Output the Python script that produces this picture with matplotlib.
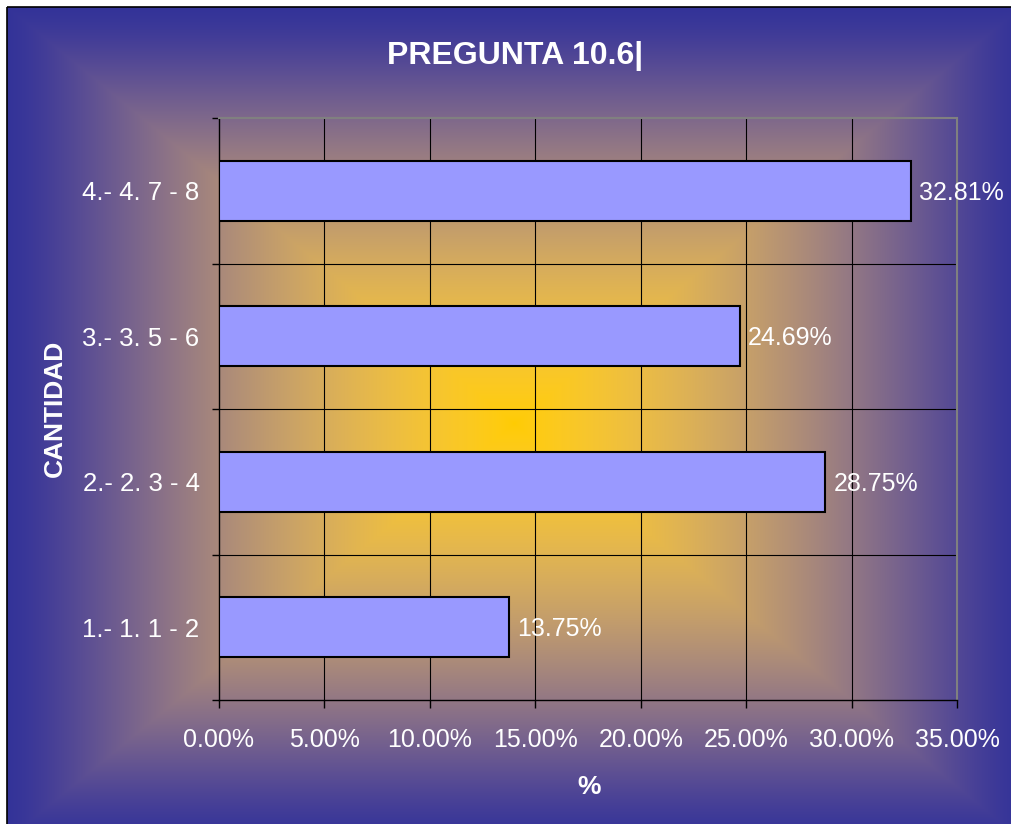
import numpy as np
import matplotlib
matplotlib.use("Agg")
import matplotlib.pyplot as plt
from matplotlib.patches import Rectangle
from matplotlib.ticker import FixedLocator, FuncFormatter

plt.rcParams['font.family'] = ['Liberation Sans', 'DejaVu Sans']

# Data
categories = ["1.- 1. 1 - 2", "2.- 2. 3 - 4", "3.- 3. 5 - 6", "4.- 4. 7 - 8"]
percentages = [13.75, 28.75, 24.69, 32.81]
x_ticks = [0, 5, 10, 15, 20, 25, 30, 35]
title_text = "PREGUNTA 10.6|"
y_title = "CANTIDAD"
x_title = "%"

W, H = 1012, 824
DPI = 100
fig = plt.figure(figsize=(W / DPI, H / DPI), dpi=DPI)
fig.patch.set_facecolor("white")

# Background: rectangular gradient from gold in the centre to blue at the edges,
# blended in linear light with an eased ramp
gold = np.array([0xFF, 0xCC, 0x00]) / 255.0
blue = np.array([0x33, 0x33, 0x99]) / 255.0
x0, y0, x1, y1 = 7, 7, 1022, 840
cx, cy = (x0 + x1) / 2, (y0 + y1) / 2
hw, hh = (x1 - x0) / 2, (y1 - y0) / 2
xx, yy = np.meshgrid(np.arange(W) + 0.5, np.arange(H) + 0.5)
t = np.maximum(np.abs(xx - cx) / hw, np.abs(yy - cy) / hh)
t = np.clip(t, 0, 1)
t = 0.15 * t + 0.85 * (3 * t ** 2 - 2 * t ** 3)
t = t[..., None]
g = 2.2
img = ((1 - t) * gold ** g + t * blue ** g) ** (1 / g)
outside = (xx < x0) | (yy < y0)
img[outside] = 1.0

bg = fig.add_axes([0, 0, 1, 1], zorder=0)
bg.imshow(img, extent=(0, W, H, 0), interpolation="nearest", aspect="auto")
bg.add_patch(Rectangle((x0, y0), x1 - x0, y1 - y0, fill=False,
                       edgecolor="black", linewidth=1.2))
bg.set_xlim(0, W)
bg.set_ylim(H, 0)
bg.axis("off")

# Plot area
left, right, top, bottom = 219, 957, 118, 700
ax = fig.add_axes([left / W, 1 - bottom / H, (right - left) / W, (bottom - top) / H],
                  zorder=1)
ax.patch.set_alpha(0)

ypos = np.arange(len(categories))
bars = ax.barh(ypos, percentages, height=0.41, color="#9999FF",
               edgecolor="black", linewidth=1.5, zorder=3)

ax.set_xlim(0, 35)
ax.set_ylim(-0.5, len(categories) - 0.5)

# Gridlines
for xv in x_ticks[1:-1]:
    ax.axvline(xv, color="black", linewidth=0.8, zorder=1)
for yb in np.arange(0.5, len(categories) - 0.5, 1.0):
    ax.axhline(yb, color="black", linewidth=0.8, zorder=1)

# Spines
for side in ("top", "right"):
    ax.spines[side].set_color("#808080")
    ax.spines[side].set_linewidth(1.5)
for side in ("left", "bottom"):
    ax.spines[side].set_color("black")
    ax.spines[side].set_linewidth(1.0)

# Ticks
ax.set_xticks(x_ticks)
ax.xaxis.set_major_formatter(FuncFormatter(lambda v, p: f"{v:.2f}%"))
ax.tick_params(axis="x", which="major", direction="out", length=6, width=1,
               color="black", labelsize=18, labelcolor="white", pad=14)

ax.set_yticks(ypos)
ax.set_yticklabels(categories)
ax.tick_params(axis="y", which="major", length=0, labelsize=18.5,
               labelcolor="white", pad=14)
ax.yaxis.set_minor_locator(FixedLocator(np.arange(-0.5, len(categories), 1.0)))
ax.tick_params(axis="y", which="minor", direction="out", length=5, width=1,
               color="black")

# Value labels
for b, v in zip(bars, percentages):
    ax.annotate(f"{v:.2f}%", (v, b.get_y() + b.get_height() / 2),
                xytext=(6, -1.5), textcoords="offset points",
                ha="left", va="center", color="white", fontsize=18, zorder=4)

# Titles
fig.text(515 / W, 1 - 64 / H, title_text, ha="center", va="baseline",
         color="white", fontsize=23, fontweight="bold")
fig.text(62 / W, 1 - 408 / H, y_title, ha="center", va="baseline", rotation=90,
         rotation_mode="anchor", color="white", fontsize=19, fontweight="bold")
fig.text(589 / W, 1 - 794 / H, x_title, ha="center", va="baseline",
         color="white", fontsize=19, fontweight="bold")

fig.savefig("out.png", dpi=DPI, facecolor=fig.get_facecolor())
